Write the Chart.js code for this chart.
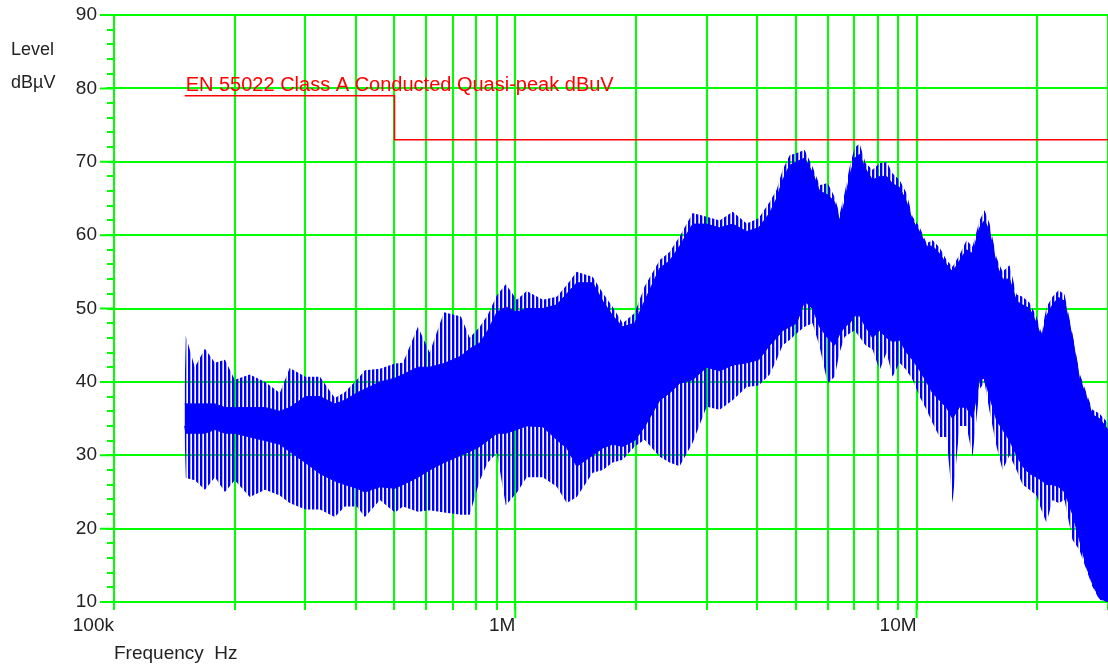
<!DOCTYPE html>
<html lang="en">
<head>
<meta charset="UTF-8">
<title>EN 55022 Conducted Emission Scan</title>
<style>
    html, body {
        margin: 0;
        padding: 0;
        background: #fff;
    }
    #wrap {
        width: 1108px;
        height: 668px;
        position: relative;
    }
</style>
</head>
<body>
<div id="wrap"><canvas id="chart"></canvas></div>

<script src="https://cdn.jsdelivr.net/npm/chart.js"></script>
<script>
    const freqKHz = [150, 151, 159, 168.5, 178.5, 189, 200, 218, 238, 259,
        274, 300, 326, 355, 376, 403, 422, 460, 501, 525,
        572, 612, 664, 732, 770, 816, 854, 900, 947, 1009,
        1068, 1171, 1269, 1344, 1423, 1560, 1652, 1749, 1852, 1984,
        2100, 2291, 2425, 2568, 2768, 2999, 3231, 3481, 3772, 4042,
        4305, 4481, 4638, 4828, 5025, 5260, 5508, 5734, 6003, 6250,
        6431, 6618, 6810, 7009, 7211, 7464, 7770, 8089, 8421, 8714,
        9072, 9443, 9773, 10174, 10590, 10962, 11411, 11878, 12294, 12797,
        13321, 13789, 14353, 14772, 15203, 15825, 16381, 17051, 17749, 18370,
        19122, 19904, 20485, 21082, 21824, 22589, 23381, 24463, 25464, 26506,
        27437, 28560, 30000];

    // peak of the spikes (dBuV)
    const peakMax = [39.4, 46.3, 42, 44.5, 42.6, 43, 40.3, 41, 40, 38.5,
        41.9, 40.7, 40.7, 37.8, 38.6, 40.3, 41.6, 41.8, 42.5, 42.6,
        47.5, 44, 49.5, 48.9, 46, 47.5, 49.1, 51.8, 53.3, 51.2,
        52.4, 51.2, 51.6, 53.2, 55, 54.3, 52.1, 50.2, 48, 49.4,
        53, 56.6, 57.7, 59.8, 63, 62.5, 62, 63.2, 61.6, 62.3,
        64.5, 66.2, 68.9, 70.9, 71.2, 71.6, 69.3, 66.8, 67.1, 65.2,
        62.8, 65.7, 69.3, 71.9, 72.5, 69.8, 68.9, 69.8, 70, 68.4,
        67.5, 65.7, 62.5, 61.1, 58.9, 59.3, 58.3, 56.6, 55.7, 57.3,
        59.3, 58.4, 62, 63.4, 61.6, 56.9, 55, 55.9, 51.9, 51.6,
        50.8, 48.9, 46.6, 50.2, 51.6, 52.5, 51.9, 46.6, 41.2, 38.5,
        36.2, 35.7, 34.4];

    // top of the dense part of the trace
    const denseMax = [37, 37, 37, 37, 37, 36.5, 36.5, 36.5, 36.5, 36,
        36.5, 38, 38, 37, 37.5, 38.5, 39, 40, 40.5, 41,
        42, 42, 42.5, 43.5, 44.5, 45.3, 47, 49.5, 50.2, 49.5,
        50, 50, 50.5, 52, 53.5, 53.5, 51, 49, 47.5, 48,
        51, 55.5, 56.5, 58.5, 61.5, 61.5, 61, 61.5, 60.5, 61,
        63, 65, 67.5, 69.5, 70, 70.5, 68.5, 66, 65.5, 64.5,
        62, 64.5, 68, 70.5, 71, 69, 67.5, 68, 68, 67,
        66.5, 64.5, 62, 60.5, 58.5, 58.5, 57.5, 56, 55, 56.5,
        58, 57.5, 61, 62, 60.5, 56, 54, 54, 51, 50.5,
        50, 48, 46, 49, 50.5, 51.5, 51, 46, 40.5, 38,
        35.5, 35, 33.5];

    // bottom of the dense part of the trace
    const denseMin = [34, 33, 33, 33, 33.5, 33, 33, 32.5, 32, 31.5,
        30.5, 29, 27.5, 26.5, 26, 25.5, 25, 25.7, 25.5, 26,
        27, 28, 29, 30, 30.5, 31.2, 32, 33, 33, 33.5,
        34, 33.9, 32.1, 31, 28.5, 30, 31, 31.5, 31.2, 32,
        33.9, 37.5, 38.5, 39.8, 40.3, 42, 41.5, 42.3, 42.6, 43,
        45, 46, 47, 47.5, 48, 51, 50, 47.5, 46, 45,
        46.5, 47.5, 48, 49, 49, 47.5, 46, 47, 46, 45.5,
        45.7, 44, 43, 41.6, 40, 38.5, 37.5, 36.5, 35, 36.6,
        36.5, 35, 40.3, 40.5, 38, 34.8, 33.5, 32, 30, 28.5,
        27.5, 27, 26.6, 26, 26, 25.7, 25, 22, 18.5, 14.8,
        12.5, 10.5, 10];

    // lowest dips of the spikes
    const peakMin = [32.4, 26.9, 26.6, 25.3, 27, 25, 26.6, 24.3, 25.3, 24.5,
        23.5, 22.6, 22.6, 21.6, 23, 23, 21.6, 23.9, 22.2, 23,
        22.3, 22.5, 22.2, 21.9, 21.9, 26.6, 29, 30.3, 23.2, 24.9,
        27, 27, 25.7, 23.5, 24.3, 27.6, 28, 29, 29.4, 31.2,
        32.1, 29.8, 29, 28.5, 31.7, 36.6, 36.2, 37.5, 39.3, 39.5,
        41, 43, 45, 45.7, 46.6, 47.5, 48, 44.8, 39.8, 40.7,
        44, 46.1, 46.6, 47, 46.1, 45, 44.4, 41.6, 44, 40.7,
        42.6, 41.6, 40.3, 38, 36.2, 34.4, 32.5, 32.5, 23.5, 34,
        34, 29.8, 39, 40, 36, 31.2, 28, 30, 28, 26,
        25.3, 24.5, 22.5, 20.8, 23.9, 23.5, 23.9, 18.5, 17.1, 14.4,
        12.1, 10.3, 10];

    // EN 55022 class A quasi-peak limit
    const limitName = 'EN 55022 Class A Conducted Quasi-peak dBuV';
    const limitFreqKHz = [150, 500, 30000];
    const limitLevel = [79, 73, 73];

    // axes
    const gridFreqKHz = [100, 200, 300, 400, 500, 600, 700, 800, 900,
        1000, 2000, 3000, 4000, 5000, 6000, 7000, 8000, 9000,
        10000, 20000, 30000];
    const majorFreqKHz = [1000, 10000];
    const xLabelFreqKHz = [100, 1000, 10000];
    const xLabels = ['100k', '1M', '10M'];
    const yLabelValues = [10, 20, 30, 40, 50, 60, 70, 80, 90];
    const yMinorStep = 2;

    const green = '#00ff00';
    const blue = '#0000ff';
    const textColor = '#222';
    const fontFamily = '"Liberation Sans", Arial, sans-serif';

    const canvas = document.getElementById('chart');
    const ctx = canvas.getContext('2d');

    // thin vertical stripes so the spiky part is not a flat block
    function stripes() {
        const c = document.createElement('canvas');
        c.width = 4;
        c.height = 1;
        const g = c.getContext('2d');
        g.fillStyle = blue;
        g.fillRect(0, 0, 2, 1);
        g.fillStyle = 'rgba(0, 0, 255, 0.35)';
        g.fillRect(2, 0, 1, 1);
        return ctx.createPattern(c, 'repeat');
    }

    function points(values) {
        return freqKHz.map((f, i) => ({ x: f * 1000, y: values[i] }));
    }

    const yTickValues = [];
    for (let v = yLabelValues[0]; v <= yLabelValues[yLabelValues.length - 1]; v += yMinorStep) {
        yTickValues.push(v);
    }

    const decorations = {
        id: 'decorations',
        afterDraw(chart) {
            const c = chart.ctx;
            const area = chart.chartArea;
            const x = chart.scales.x;
            const y = chart.scales.y;
            c.save();
            // longer ticks at decades and at every 10 dB
            c.strokeStyle = green;
            c.lineWidth = 2;
            c.beginPath();
            majorFreqKHz.forEach(f => {
                const px = x.getPixelForValue(f * 1000);
                c.moveTo(px, area.bottom);
                c.lineTo(px, area.bottom + 16);
            });
            yLabelValues.forEach(v => {
                const py = y.getPixelForValue(v);
                c.moveTo(area.left - 14, py);
                c.lineTo(area.left, py);
            });
            c.stroke();

            c.fillStyle = textColor;
            c.font = '18px ' + fontFamily;
            c.textBaseline = 'alphabetic';
            c.textAlign = 'left';
            c.fillText('Level', 11, 55);
            c.fillText('dBµV', 11, 88);

            c.fillStyle = '#ff0000';
            c.font = '20px ' + fontFamily;
            c.fillText(limitName,
                x.getPixelForValue(limitFreqKHz[0] * 1000) + 1,
                y.getPixelForValue(limitLevel[0]) - 5);
            c.restore();
        }
    };

    new Chart(ctx, {
        type: 'line',
        data: {
            datasets: [{
                label: limitName,
                data: limitFreqKHz.map((f, i) => ({ x: f * 1000, y: limitLevel[i] })),
                borderColor: '#ff0000',
                borderWidth: 1.5,
                stepped: 'before',
                pointRadius: 0,
                fill: false
            }, {
                label: 'Peak max',
                data: points(peakMax),
                borderColor: 'rgba(0,0,0,0)',
                borderWidth: 0,
                backgroundColor: stripes(),
                pointRadius: 0,
                tension: 0,
                fill: '+3'
            }, {
                label: 'Dense max',
                data: points(denseMax),
                borderColor: blue,
                borderWidth: 1,
                backgroundColor: blue,
                pointRadius: 0,
                tension: 0,
                fill: '+1'
            }, {
                label: 'Dense min',
                data: points(denseMin),
                borderColor: blue,
                borderWidth: 1,
                pointRadius: 0,
                tension: 0,
                fill: false
            }, {
                label: 'Peak min',
                data: points(peakMin),
                borderColor: 'rgba(0,0,0,0)',
                borderWidth: 0,
                pointRadius: 0,
                tension: 0,
                fill: false
            }]
        },
        options: {
            responsive: true,
            maintainAspectRatio: false,
            animation: false,
            layout: {
                padding: { top: 15, right: 0, bottom: 0, left: 0 }
            },
            plugins: {
                legend: { display: false },
                tooltip: { enabled: false }
            },
            scales: {
                x: {
                    type: 'logarithmic',
                    min: 100000,
                    max: 30000000,
                    afterBuildTicks: scale => {
                        scale.ticks = gridFreqKHz.map(f => ({ value: f * 1000 }));
                    },
                    afterFit: scale => {
                        scale.height = 66;
                        scale.paddingLeft = 0;
                        scale.paddingRight = 0;
                    },
                    ticks: {
                        autoSkip: false,
                        maxRotation: 0,
                        minRotation: 0,
                        align: 'end',
                        padding: 4,
                        color: textColor,
                        font: { family: fontFamily, size: 19 },
                        callback: value => {
                            const i = xLabelFreqKHz.indexOf(Math.round(value / 1000));
                            return i >= 0 ? xLabels[i] : '';
                        }
                    },
                    grid: {
                        color: green,
                        tickColor: green,
                        lineWidth: 2,
                        tickLength: 8
                    },
                    border: { color: green, width: 2 },
                    title: {
                        display: true,
                        text: 'Frequency  Hz',
                        align: 'start',
                        color: textColor,
                        font: { family: fontFamily, size: 19 },
                        padding: { top: 0, bottom: 3 }
                    }
                },
                y: {
                    min: 10,
                    max: 90,
                    afterBuildTicks: scale => {
                        scale.ticks = yTickValues.map(v => ({ value: v }));
                    },
                    afterFit: scale => {
                        scale.width = 114;
                        scale.paddingTop = 0;
                        scale.paddingBottom = 0;
                    },
                    ticks: {
                        autoSkip: false,
                        padding: 10,
                        color: textColor,
                        font: { family: fontFamily, size: 19 },
                        callback: value => (yLabelValues.includes(value) ? value : '')
                    },
                    grid: {
                        color: c => (c.tick && yLabelValues.includes(c.tick.value) ? green : 'rgba(0,0,0,0)'),
                        tickColor: green,
                        lineWidth: 2,
                        tickLength: 7
                    },
                    border: { color: green, width: 2 }
                }
            }
        },
        plugins: [decorations]
    });
</script>
</body>
</html>
